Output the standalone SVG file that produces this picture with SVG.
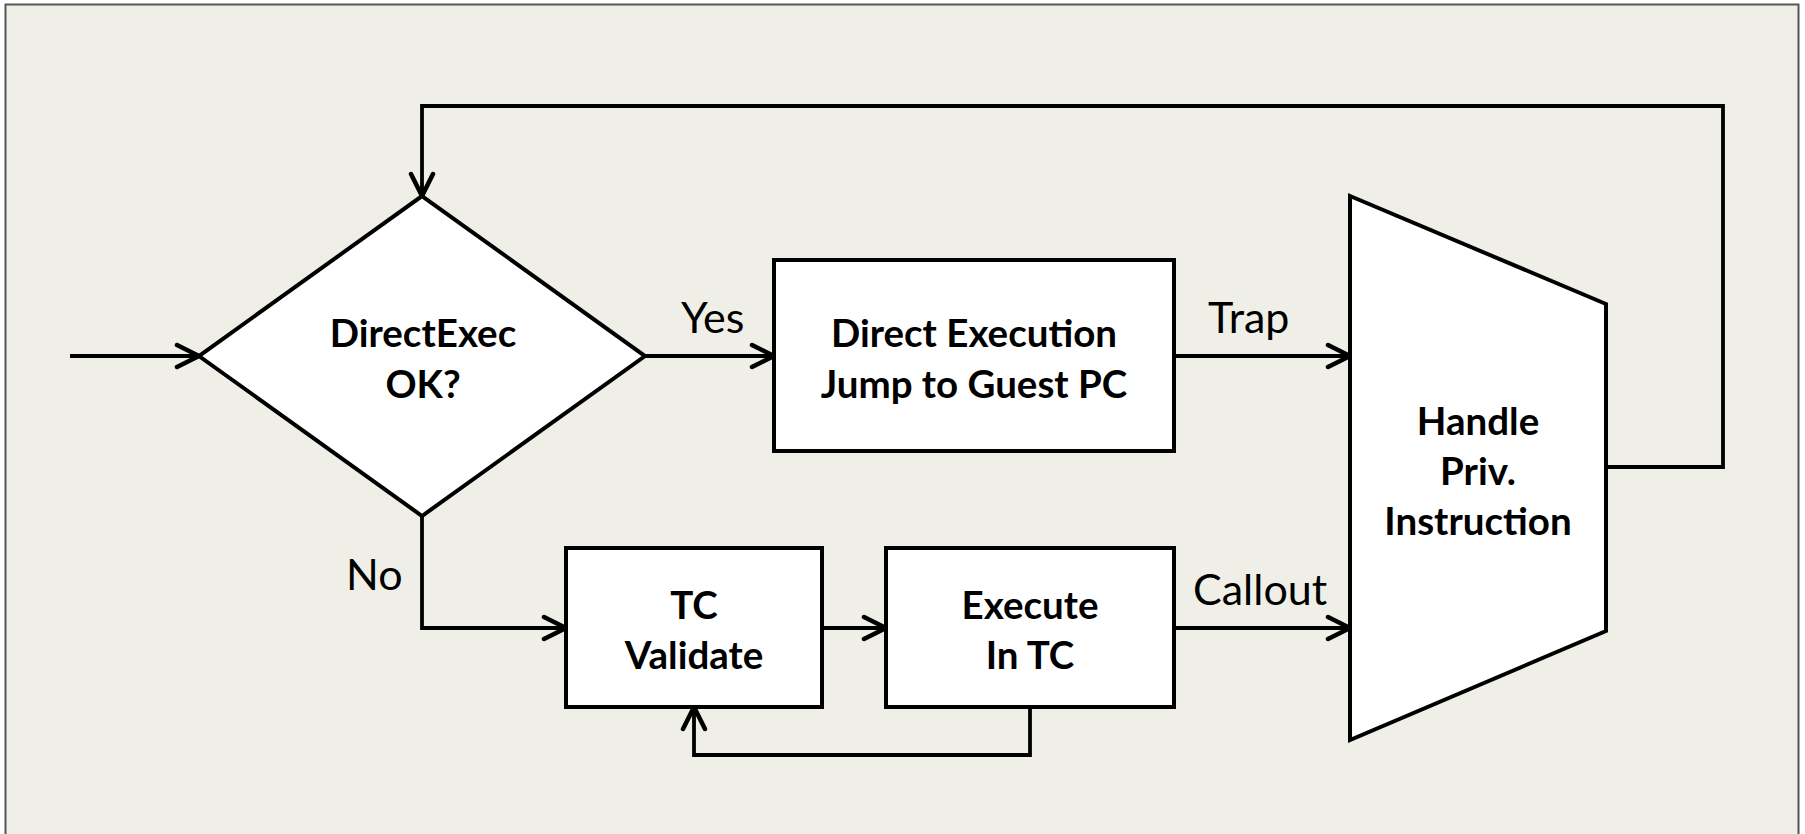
<svg xmlns="http://www.w3.org/2000/svg" width="1805" height="834" viewBox="0 0 1805 834">
  <style>
    .shape { fill: #ffffff; stroke: #000000; stroke-width: 4; stroke-linejoin: miter; }
    .wire { fill: none; stroke: #000000; stroke-width: 3.8; stroke-linejoin: miter; }
    .title { font-family: Lato, "Open Sans", sans-serif; font-weight: bold; font-size: 38.5px; fill: #000000; text-anchor: middle; }
    .label { font-family: Lato, "Open Sans", sans-serif; font-size: 43px; fill: #000000; }
  </style>
  <defs>
    <marker id="arrow" markerUnits="userSpaceOnUse" viewBox="-28 -15 32 30" markerWidth="32" markerHeight="30" refX="0" refY="0" orient="auto">
      <path d="M-22,-11 L0,0 L-22,11" fill="none" stroke="#000000" stroke-width="4.5" stroke-linecap="round" stroke-linejoin="miter"/>
    </marker>
  </defs>

  <!-- page background and frame -->
  <rect x="0" y="0" width="1805" height="834" fill="#ffffff"/>
  <rect x="5.5" y="4.5" width="1793" height="840" fill="#efefe7" stroke="#555555" stroke-width="2"/>

  <!-- connectors -->
  <g id="connectors">
    <path class="wire" d="M70,356 H199" marker-end="url(#arrow)"/>
    <path class="wire" d="M645,356 H774" marker-end="url(#arrow)"/>
    <path class="wire" d="M1174,356 H1350" marker-end="url(#arrow)"/>
    <path class="wire" d="M1606,467 H1723 V106 H422 V196" marker-end="url(#arrow)"/>
    <path class="wire" d="M422,516 V628 H566" marker-end="url(#arrow)"/>
    <path class="wire" d="M822,628 H886" marker-end="url(#arrow)"/>
    <path class="wire" d="M1174,628 H1350" marker-end="url(#arrow)"/>
    <path class="wire" d="M1030,707 V755 H694 V707" marker-end="url(#arrow)"/>
    <text class="label" x="681" y="333">Yes</text>
    <text class="label" x="1208" y="333">Trap</text>
    <text class="label" x="346" y="590">No</text>
    <text class="label" x="1193" y="605">Callout</text>
  </g>

  <!-- decision -->
  <g id="direct-exec-ok">
    <polygon class="shape" points="422,196 645,356 422,516 199,356"/>
    <text class="title" x="423" y="347">DirectExec</text>
    <text class="title" x="423" y="398">OK?</text>
  </g>

  <g id="direct-execution">
    <rect class="shape" x="774" y="260" width="400" height="191"/>
    <text class="title" x="974" y="347">Direct Execution</text>
    <text class="title" x="974" y="398">Jump to Guest PC</text>
  </g>

  <g id="tc-validate">
    <rect class="shape" x="566" y="548" width="256" height="159"/>
    <text class="title" x="694" y="619">TC</text>
    <text class="title" x="694" y="669">Validate</text>
  </g>

  <g id="execute-in-tc">
    <rect class="shape" x="886" y="548" width="288" height="159"/>
    <text class="title" x="1030" y="619">Execute</text>
    <text class="title" x="1030" y="669">In TC</text>
  </g>

  <g id="handle-priv-instruction">
    <polygon class="shape" points="1350,196 1606,304 1606,631 1350,740"/>
    <text class="title" x="1478" y="435">Handle</text>
    <text class="title" x="1478" y="485">Priv.</text>
    <text class="title" x="1478" y="535">Instruction</text>
  </g>
</svg>
